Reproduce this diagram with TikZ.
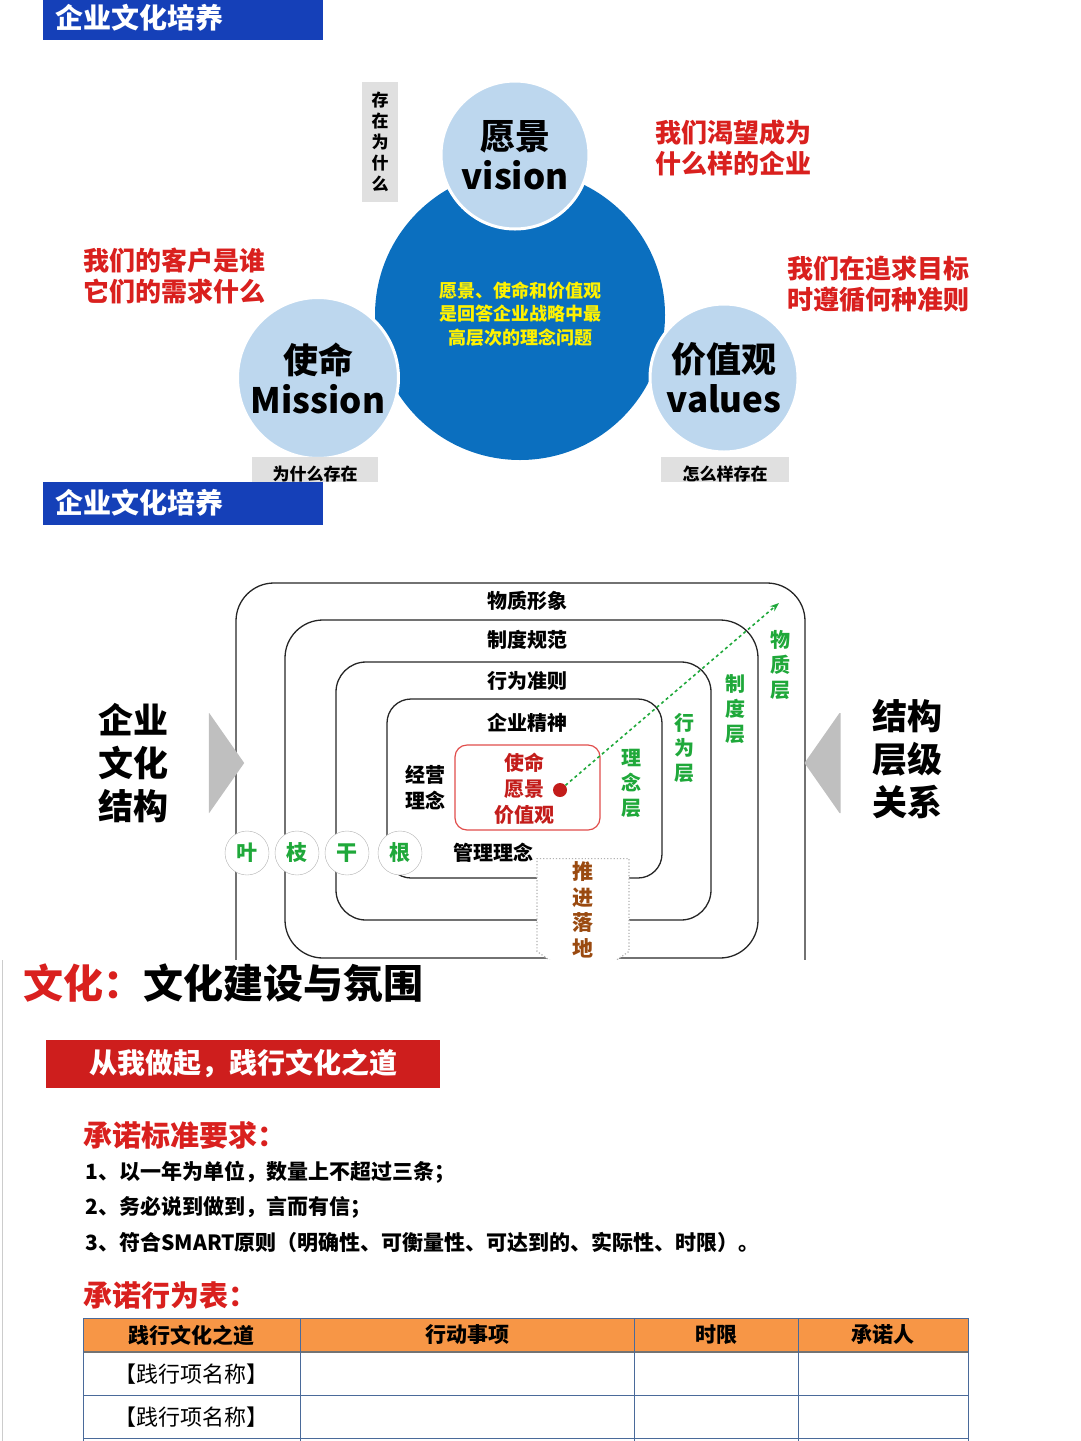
\documentclass[tikz,border=0pt]{standalone}
\usepackage{fontspec}
\setmainfont{Noto Sans CJK SC}
\usetikzlibrary{arrows.meta,shapes.arrows}
\definecolor{tblue}{HTML}{1540B8}
\definecolor{bigblue}{HTML}{0B6FBF}
\definecolor{lblue}{HTML}{BDD7EE}
\definecolor{rtxt}{HTML}{D9201E}
\definecolor{gtxt}{HTML}{1FA83A}
\definecolor{brn}{HTML}{9A4A10}
\definecolor{orng}{HTML}{F79646}
\definecolor{tline}{HTML}{4A6A9A}
\tikzset{
 ttl/.style={fill=tblue,text=white,font=\bfseries\fontsize{28}{30}\selectfont,anchor=west,inner sep=0pt},
 lc/.style={circle,fill=lblue,draw=white,line width=3pt,minimum size=148pt,align=center,font=\bfseries\fontsize{35}{40}\selectfont},
 rt/.style={text=rtxt,font=\bfseries\fontsize{26}{31}\selectfont,align=left,anchor=west},
 lay/.style={draw=black!85,line width=1.3pt,rounded corners=38pt},
 lab/.style={font=\bfseries\fontsize{20}{22}\selectfont},
 gv/.style={text=gtxt,font=\bfseries\fontsize{20}{25}\selectfont,align=center,text width=22pt},
 leaf/.style={circle,draw=black!30,fill=white,minimum size=44pt,inner sep=0pt,text=gtxt,font=\bfseries\fontsize{21}{22}\selectfont},
 big/.style={font=\bfseries\fontsize{35}{43}\selectfont,align=left},
 body/.style={font=\bfseries\fontsize{21}{24}\selectfont,anchor=west},
}
\begin{document}
\begin{tikzpicture}[x=1pt,y=-1pt]
\useasboundingbox (0,0) rectangle (1080,1441);
% section 1
\fill[tblue] (43,0) rectangle (323,40);
\node[ttl,fill=none] (t1) at (55,18) {企业文化培养};
\node[fill=black!12,minimum width=36pt,minimum height=120pt,align=center,text width=18pt,font=\bfseries\fontsize{17}{21}\selectfont] (why) at (380,142) {存\\在\\为\\什\\么};
\node[circle,fill=bigblue,minimum size=290pt] (core) at (520,315) {};
\node[text=yellow,align=center,font=\bfseries\fontsize{18}{23.5}\selectfont] (coret) at (520,314) {愿景、使命和价值观\\是回答企业战略中最\\高层次的理念问题};
\node[lc] (vis) at (515,155) {愿景\\vision};
\node[lc] (mis) at (318,378) {使命\\Mission};
\node[lc] (val) at (724,378) {价值观\\values};
\node[rt] (r1) at (652,148) {我们渴望成为\\什么样的企业};
\node[rt] (r2) at (80,276) {我们的客户是谁\\它们的需求什么};
\node[rt] (r3) at (784,284) {我们在追求目标\\时遵循何种准则};
\begin{scope}
\clip (0,0) rectangle (1080,481);
\fill[black!12] (252,457) rectangle (378,490);
\fill[black!12] (661,457) rectangle (789,490);
\node[font=\bfseries\fontsize{17}{19}\selectfont] (w1) at (315,474) {为什么存在};
\node[font=\bfseries\fontsize{17}{19}\selectfont] (w2) at (725,474) {怎么样存在};
\end{scope}
% section 2
\fill[tblue] (43,482) rectangle (323,525);
\node[ttl,fill=none] (t2) at (55,503) {企业文化培养};
\draw[lay] (236,1000) -- (236,583) -- (805,583) -- (805,1000);
\draw[lay] (285,958) rectangle (758,620);
\draw[lay,rounded corners=30pt] (336,920) rectangle (711,662);
\draw[lay,rounded corners=24pt] (387,878) rectangle (662,699);
\draw[draw=rtxt!80,line width=1.2pt,rounded corners=12pt] (455,745) rectangle (600,830);
\node[lab] (l1) at (527,601) {物质形象};
\node[lab] (l2) at (527,640) {制度规范};
\node[lab] (l3) at (527,681) {行为准则};
\node[lab] (l4) at (527,723) {企业精神};
\node[lab,align=center,font=\bfseries\fontsize{20}{26}\selectfont] (l5) at (425,788) {经营\\理念};
\node[lab] (l6) at (493,853) {管理理念};
\node[text=rtxt!90!black,align=center,font=\bfseries\fontsize{20}{26}\selectfont] (core2) at (524,789) {使命\\愿景\\价值观};
\node[circle,fill=rtxt!90!black,minimum size=14pt,inner sep=0pt] (dot) at (560,790) {};
\coordinate (tip) at (779,603);
\draw[gtxt,dashed,line width=1.6pt,-{Stealth[length=9pt]}] (dot) -- (tip);
\node[gv] (g1) at (631,783) {理\\念\\层};
\node[gv] (g2) at (684,748) {行\\为\\层};
\node[gv] (g3) at (735,709) {制\\度\\层};
\node[gv] (g4) at (780,665) {物\\质\\层};
\node[leaf] (c1) at (247,853) {叶};
\node[leaf] (c2) at (297,853) {枝};
\node[leaf] (c3) at (347,853) {干};
\node[leaf] (c4) at (400,853) {根};
\node[single arrow,shape border rotate=270,draw=black!30,dotted,line width=1.2pt,fill=white,minimum width=92pt,single arrow head extend=0pt,single arrow tip angle=110,minimum height=125pt,inner sep=0pt] (push) at (583,905) {};
\node[text=brn,align=center,text width=22pt,font=\bfseries\fontsize{21}{25.5}\selectfont] (pusht) at (583,910) {推\\进\\落\\地};
\node[big] (left) at (133,763) {企业\\文化\\结构};
\node[single arrow,fill=black!25,minimum width=100pt,single arrow head extend=0pt,minimum height=22pt,inner sep=0pt,single arrow tip angle=110] (ar1) at (209,763) {};
\node[single arrow,fill=black!25,shape border rotate=180,minimum width=100pt,single arrow head extend=0pt,minimum height=36pt,inner sep=0pt,single arrow tip angle=110] (ar2) at (840,763) {};
\node[big] (right) at (907,759) {结构\\层级\\关系};
% section 3
\fill[white] (0,960) rectangle (1080,1441);
\draw[black!20] (2,960) -- (2,1441);
\node[anchor=west,font=\bfseries\fontsize{40}{44}\selectfont] (h3) at (20,983) {\textcolor{rtxt}{文化：}文化建设与氛围};
\fill[rtxt!95!black] (46,1040) rectangle (440,1088);
\node[font=\bfseries\fontsize{28}{30}\selectfont,text=white] (bar) at (243,1063) {从我做起，践行文化之道};
\node[rt,font=\bfseries\fontsize{29}{31}\selectfont] (req) at (80,1135) {承诺标准要求：};
\node[body] (b1) at (82,1172) {1、以一年为单位，数量上不超过三条；};
\node[body] (b2) at (82,1207) {2、务必说到做到，言而有信；};
\node[body] (b3) at (82,1242) {3、符合SMART原则（明确性、可衡量性、可达到的、实际性、时限）。};
\node[rt,font=\bfseries\fontsize{29}{31}\selectfont] (tab) at (80,1295) {承诺行为表：};
\fill[orng] (83,1318) rectangle (968,1352);
\draw[tline,line width=1pt] (83,1318) -- (968,1318);
\draw[black!55,line width=1.5pt] (83,1352) -- (968,1352);
\draw[tline,line width=1pt] (83,1395) -- (968,1395) (83,1438) -- (968,1438);
\foreach \x in {83,300,634,798,968} \draw[tline,line width=1pt] (\x,1318) -- (\x,1441);
\node[body,anchor=center] (h1) at (191,1335) {践行文化之道};
\node[body,anchor=center] (h2) at (467,1335) {行动事项};
\node[body,anchor=center] (h3b) at (716,1335) {时限};
\node[body,anchor=center] (h4) at (883,1335) {承诺人};
\node[font=\fontsize{22}{24}\selectfont] (c1r) at (191,1374) {【践行项名称】};
\node[font=\fontsize{22}{24}\selectfont] (c2r) at (191,1417) {【践行项名称】};
\end{tikzpicture}
\end{document}
